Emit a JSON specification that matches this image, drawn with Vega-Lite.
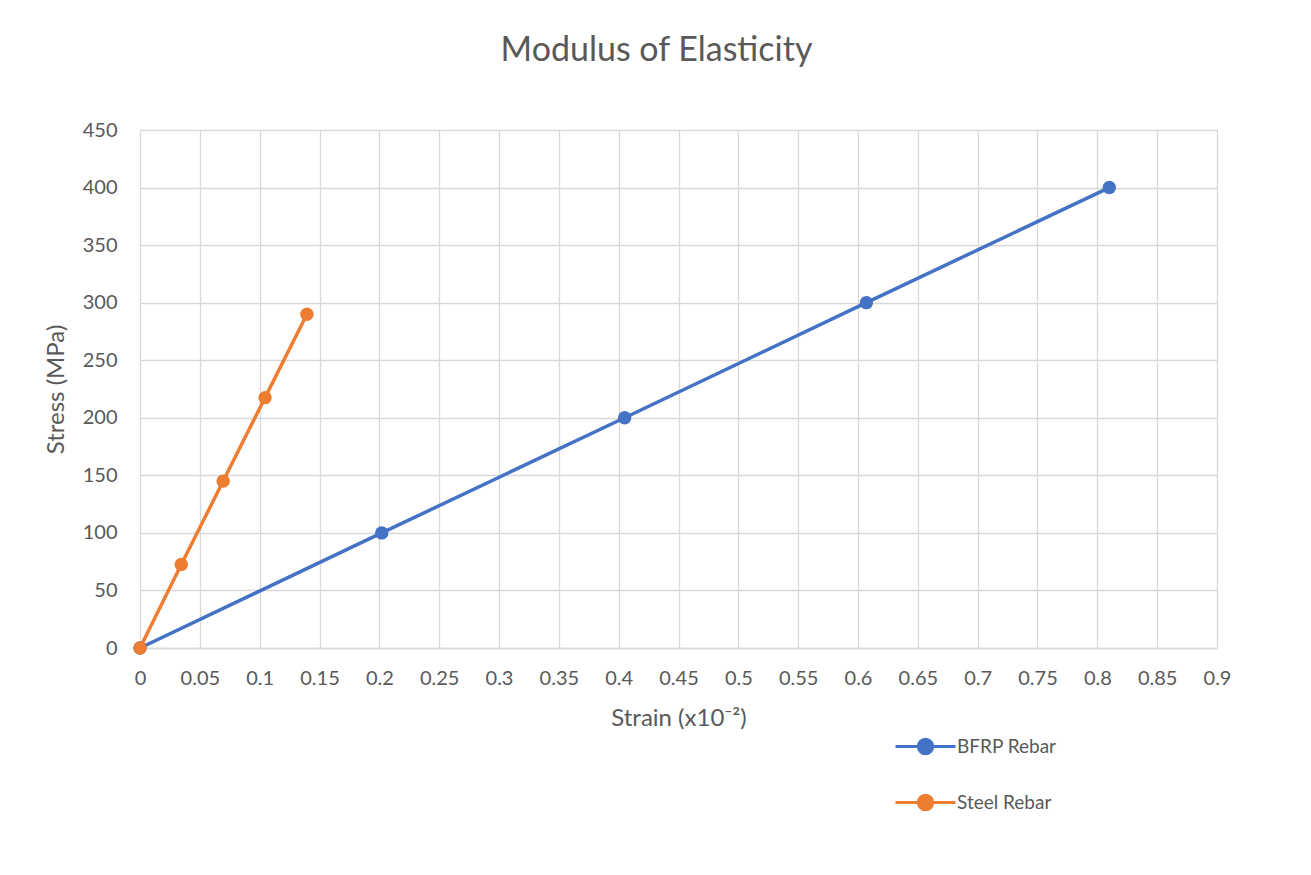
{
  "$schema": "https://vega.github.io/schema/vega-lite/v6.json",
  "width": 1077,
  "height": 518,
  "autosize": {"type": "none"},
  "padding": {"left": 140, "top": 130, "right": 94, "bottom": 227},
  "background": "white",
  "title": {
    "text": "Modulus of Elasticity",
    "fontSize": 34,
    "font": "Lato",
    "fontWeight": "normal",
    "color": "#595959",
    "anchor": "middle",
    "dx": -22,
    "offset": 52
  },
  "data": {
    "values": [
      {"series": "BFRP Rebar", "strain": 0, "stress": 0},
      {"series": "BFRP Rebar", "strain": 0.202, "stress": 100},
      {"series": "BFRP Rebar", "strain": 0.405, "stress": 200},
      {"series": "BFRP Rebar", "strain": 0.607, "stress": 300},
      {"series": "BFRP Rebar", "strain": 0.81, "stress": 400},
      {"series": "Steel Rebar", "strain": 0, "stress": 0},
      {"series": "Steel Rebar", "strain": 0.0345, "stress": 72.5},
      {"series": "Steel Rebar", "strain": 0.0695, "stress": 145},
      {"series": "Steel Rebar", "strain": 0.1045, "stress": 217.5},
      {"series": "Steel Rebar", "strain": 0.1395, "stress": 290}
    ]
  },
  "encoding": {
    "x": {
      "field": "strain",
      "type": "quantitative",
      "scale": {"domain": [0, 0.9], "nice": false, "zero": true},
      "axis": {
        "title": "Strain (x10⁻²)",
        "values": [0, 0.05, 0.1, 0.15, 0.2, 0.25, 0.3, 0.35, 0.4, 0.45, 0.5, 0.55, 0.6, 0.65, 0.7, 0.75, 0.8, 0.85, 0.9],
        "format": "~g",
        "ticks": false,
        "labelFlush": false,
        "labelPadding": 20,
        "titlePadding": 18
      }
    },
    "y": {
      "field": "stress",
      "type": "quantitative",
      "scale": {"domain": [0, 450], "nice": false},
      "axis": {
        "title": "Stress (MPa)",
        "values": [0, 50, 100, 150, 200, 250, 300, 350, 400, 450],
        "ticks": false,
        "domain": false,
        "labelFlush": false,
        "labelPadding": 23,
        "titlePadding": 14
      }
    },
    "color": {
      "field": "series",
      "type": "nominal",
      "scale": {"domain": ["BFRP Rebar", "Steel Rebar"], "range": ["#4472C4", "#ED7D31"]},
      "legend": {
        "title": null,
        "orient": "none",
        "legendX": 754,
        "legendY": 585,
        "symbolType": "M-1,0L1,0M-0.24,0A0.24,0.24 0 1,1 0.24,0A0.24,0.24 0 1,1 -0.24,0Z",
        "symbolSize": 3600,
        "symbolStrokeWidth": 3,
        "symbolOpacity": 1,
        "labelFontSize": 19,
        "labelFont": "Lato",
        "labelColor": "#595959",
        "labelOffset": 0,
        "rowPadding": 11
      }
    }
  },
  "layer": [
    {"mark": {"type": "line", "strokeWidth": 3.5}},
    {"mark": {"type": "point", "filled": true, "size": 180, "opacity": 1}}
  ],
  "config": {
    "view": {"stroke": null},
    "font": "Lato",
    "axis": {
      "gridColor": "#D9D9D9",
      "gridWidth": 1.3,
      "gridOpacity": 1,
      "domainColor": "#D9D9D9",
      "domainWidth": 1.3,
      "labelFontSize": 20,
      "labelColor": "#595959",
      "labelFont": "Lato",
      "titleFontSize": 24,
      "titleFont": "Lato",
      "titleFontWeight": "normal",
      "titleColor": "#595959"
    }
  }
}
